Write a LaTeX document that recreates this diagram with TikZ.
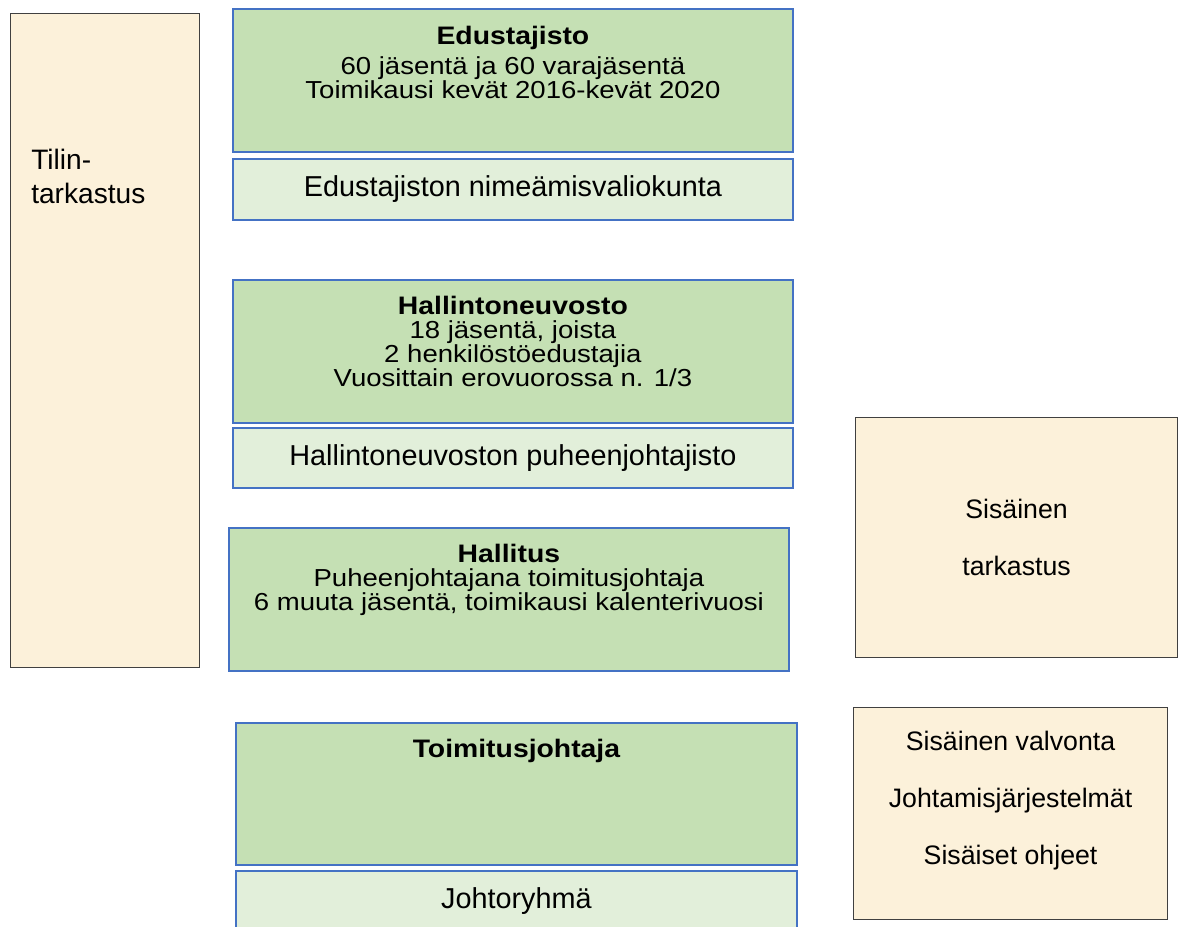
\documentclass[tikz,border=0pt]{standalone}
\usepackage{fontspec}
\setmainfont{Liberation Sans}
\newfontfamily\leveafont[FakeStretch=1.12]{Liberation Sans}
\usepackage{tikz}
\usetikzlibrary{positioning}

\definecolor{vihrea}{HTML}{C5E0B4}
\definecolor{vaalea}{HTML}{E2EFDA}
\definecolor{sininen}{HTML}{4472C4}
\definecolor{hiekka}{HTML}{FCF1DA}
\definecolor{reuna}{HTML}{404040}

\tikzset{
  elin/.style={draw=sininen, line width=1.3pt, fill=vihrea, inner sep=0pt, anchor=north west, minimum width=14cm, minimum height=3.575cm},
  ala/.style={draw=sininen, line width=1.3pt, fill=vaalea, inner sep=0pt, anchor=north west, minimum width=14cm, minimum height=1.5cm, font=\fontsize{20.5}{24}\selectfont},
  tarkastus/.style={draw=reuna, line width=0.8pt, fill=hiekka, inner sep=0pt, anchor=north west},
  kuvaus/.style={anchor=north, align=center, inner sep=0pt, font=\leveafont\fontsize{17.5}{17}\selectfont}
}
\newcommand{\nimi}[1]{{\fontsize{18}{17}\selectfont\bfseries #1}}

\begin{document}
\begin{tikzpicture}[x=1cm,y=-1cm]
\useasboundingbox (0,0) rectangle (29.55,23.175);
\clip (0,0) rectangle (29.55,23.175);
% Tilintarkastus
\node[tarkastus, minimum width=4.725cm, minimum height=16.35cm] (tilin) at (0.25,0.325) {};
\node[anchor=north west, align=left, inner sep=0pt, font=\fontsize{20}{24.8}\selectfont] (tilin-teksti) at (0.775,3.71) {Tilin-\\tarkastus};
% Edustajisto
\node[elin] (edustajisto) at (5.8,0.2) {};
\node[kuvaus, below=0.45cm of edustajisto.north] (edustajisto-teksti) {\nimi{Edustajisto}\\[4.25pt]60 jäsentä ja 60 varajäsentä\\Toimikausi kevät 2016-kevät 2020};
\node[ala, minimum height=1.525cm] (valiokunta) at (5.8,3.95) {Edustajiston nimeämisvaliokunta};
% Hallintoneuvosto
\node[elin] (hallintoneuvosto) at (5.8,6.975) {};
\node[kuvaus, below=0.42cm of hallintoneuvosto.north] (hallintoneuvosto-teksti) {\nimi{Hallintoneuvosto}\\18 jäsentä, joista\\2 henkilöstöedustajia\\Vuosittain erovuorossa n. 1/3};
\node[ala] (puheenjohtajisto) at (5.8,10.675) {Hallintoneuvoston puheenjohtajisto};
% Hallitus
\node[elin] (hallitus) at (5.7,13.175) {};
\node[kuvaus, below=0.42cm of hallitus.north] (hallitus-teksti) {\nimi{Hallitus}\\Puheenjohtajana toimitusjohtaja\\6 muuta jäsentä, toimikausi kalenterivuosi};
% Toimitusjohtaja
\node[elin, minimum width=14.025cm, minimum height=3.55cm] (toimitusjohtaja) at (5.875,18.05) {};
\node[kuvaus, below=0.42cm of toimitusjohtaja.north] (toimitusjohtaja-teksti) {\nimi{Toimitusjohtaja}};
\node[ala, minimum width=14.025cm] (johtoryhma) at (5.875,21.75) {Johtoryhmä};
% Sisainen tarkastus
\node[tarkastus, minimum width=8.05cm, minimum height=6cm, align=center, font=\fontsize{19}{40.4}\selectfont] (sisainen) at (21.375,10.425) {Sisäinen\\tarkastus};
% Sisainen valvonta
\node[tarkastus, minimum width=7.85cm, minimum height=5.3cm] (valvonta) at (21.325,17.675) {};
\node[anchor=north, align=center, inner sep=0pt, font=\fontsize{19}{40.4}\selectfont, below=0.6cm of valvonta.north] (valvonta-teksti) {Sisäinen valvonta\\Johtamisjärjestelmät\\Sisäiset ohjeet};
\end{tikzpicture}
\end{document}
